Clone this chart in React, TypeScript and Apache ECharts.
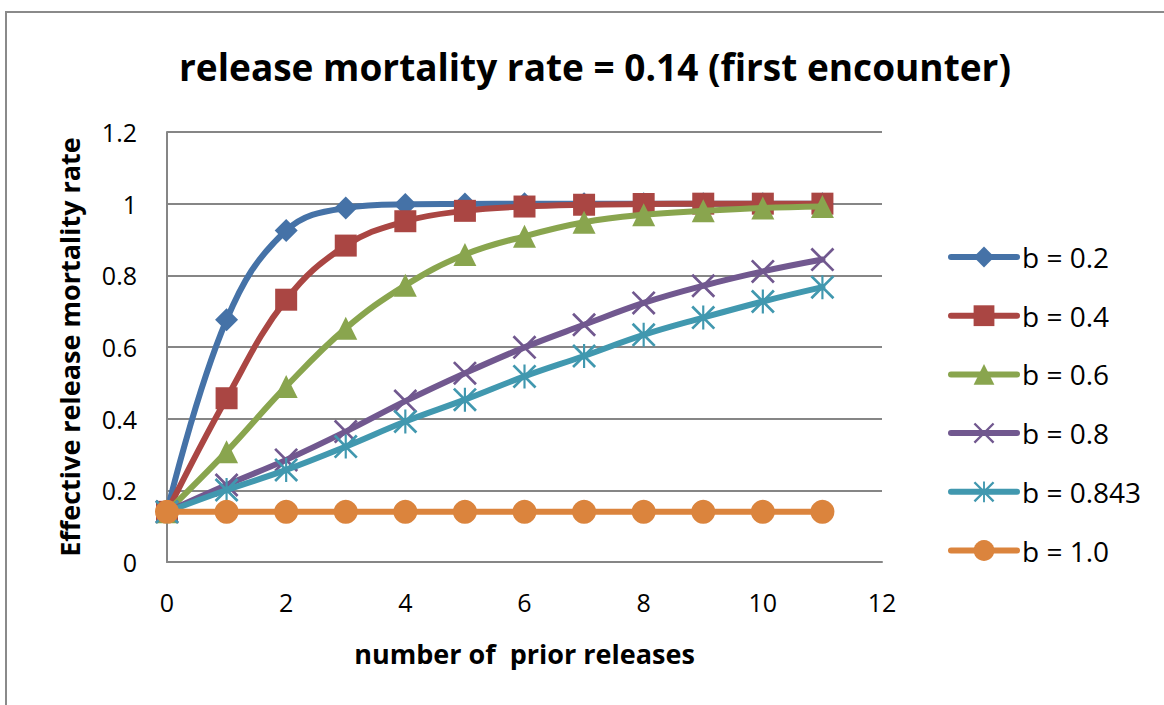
import React, { useEffect, useRef } from "react";
import * as echarts from "echarts";

// Number of prior releases (x positions of every point)
const releases = [0, 1, 2, 3, 4, 5, 6, 7, 8, 9, 10, 11];

// Effective release mortality rate for each value of b
const b02 = [0.14, 0.676, 0.925, 0.988, 0.998, 0.999, 1.0, 1.0, 1.0, 1.0, 1.0, 1.0];
const b04 = [0.14, 0.457, 0.732, 0.883, 0.951, 0.98, 0.992, 0.997, 0.999, 1.0, 1.0, 1.0];
const b06 = [0.14, 0.308, 0.49, 0.652, 0.772, 0.858, 0.909, 0.948, 0.969, 0.98, 0.988, 0.992];
const b08 = [0.14, 0.215, 0.285, 0.364, 0.449, 0.527, 0.599, 0.662, 0.723, 0.771, 0.811, 0.844];
const b0843 = [0.14, 0.201, 0.257, 0.322, 0.392, 0.453, 0.518, 0.575, 0.634, 0.682, 0.727, 0.767];
const b10 = [0.14, 0.14, 0.14, 0.14, 0.14, 0.14, 0.14, 0.14, 0.14, 0.14, 0.14, 0.14];

const seriesNames = ["b = 0.2", "b = 0.4", "b = 0.6", "b = 0.8", "b = 0.843", "b = 1.0"];
const seriesValues = [b02, b04, b06, b08, b0843, b10];
const seriesColors = ["#4572A7", "#AA4643", "#89A54E", "#71588F", "#4198AF", "#DB843D"];

// Stroked marker shapes drawn as thin filled bars
const crossPath =
  "path://M0 1.6 L1.6 0 L20 18.4 L18.4 20 Z M18.4 0 L20 1.6 L1.6 20 L0 18.4 Z";
const starPath =
  "path://M0 1.6 L1.6 0 L20 18.4 L18.4 20 Z M18.4 0 L20 1.6 L1.6 20 L0 18.4 Z M9.1 0 L10.9 0 L10.9 20 L9.1 20 Z";

const symbols = ["diamond", "rect", "triangle", crossPath, starPath, "circle"];
const symbolSizes = [23, 22, 23, 24, 24, 24];

const FONT = "'Open Sans', Lato, sans-serif";

export default function App() {
  const ref = useRef<HTMLDivElement>(null);

  useEffect(() => {
    if (!ref.current) return;
    const chart = echarts.init(ref.current, undefined, { renderer: "svg" });

    const series = seriesNames.map((name, i) => ({
      name,
      type: "line",
      data: releases.map((x, j) => [x, seriesValues[i][j]]),
      smooth: 0.4,
      symbol: symbols[i],
      symbolSize: symbolSizes[i],
      showAllSymbol: true,
      lineStyle: { width: 6, color: seriesColors[i], cap: "round" },
      itemStyle: { color: seriesColors[i] },
      emphasis: { disabled: true },
      z: 2 + i,
    }));

    chart.setOption({
      animation: false,
      backgroundColor: "#ffffff",
      textStyle: { fontFamily: FONT },
      title: {
        text: "release mortality rate = 0.14 (first encounter)",
        left: 590,
        textAlign: "center",
        top: 43,
        textStyle: { fontFamily: FONT, fontSize: 37, fontWeight: "bold", color: "#000" },
      },
      legend: {
        orient: "vertical",
        left: 943,
        top: 238,
        itemWidth: 66,
        itemHeight: 26,
        itemGap: 30.7,
        data: seriesNames,
        lineStyle: { width: 6, cap: "round" },
        textStyle: { fontFamily: FONT, fontSize: 28, color: "#000" },
        selectedMode: false,
      },
      grid: { left: 167, right: 282, top: 132, bottom: 143, containLabel: false },
      xAxis: {
        type: "value",
        min: 0,
        max: 12,
        interval: 2,
        name: "number of  prior releases",
        nameLocation: "middle",
        nameGap: 78,
        nameTextStyle: { fontFamily: FONT, fontSize: 27, fontWeight: "bold", color: "#000" },
        axisLine: { show: true, lineStyle: { color: "#868686", width: 2 } },
        axisTick: { show: false },
        splitLine: { show: false },
        axisLabel: { fontFamily: FONT, fontSize: 25, color: "#000", margin: 27 },
      },
      yAxis: {
        type: "value",
        min: 0,
        max: 1.2,
        interval: 0.2,
        name: "Effective release mortality rate",
        nameLocation: "middle",
        nameGap: 84,
        nameTextStyle: { fontFamily: FONT, fontSize: 27, fontWeight: "bold", color: "#000" },
        axisLine: { show: true, lineStyle: { color: "#868686", width: 2 } },
        axisTick: { show: false },
        splitLine: { show: true, lineStyle: { color: "#868686", width: 2 } },
        axisLabel: {
          fontFamily: FONT,
          fontSize: 25,
          color: "#000",
          margin: 30,
          formatter: (v: number) => String(parseFloat(v.toFixed(1))),
        },
      },
      graphic: [
        {
          type: "polyline",
          shape: { points: [[6, 705], [6, 12], [1164, 12]] },
          style: { stroke: "#8a8a8a", lineWidth: 2, fill: "none" },
          silent: true,
        },
      ],
      series,
    });

    return () => chart.dispose();
  }, []);

  return (
    <div
      ref={ref}
      style={{ position: "fixed", left: 0, top: 0, width: 1164, height: 705 }}
    />
  );
}
